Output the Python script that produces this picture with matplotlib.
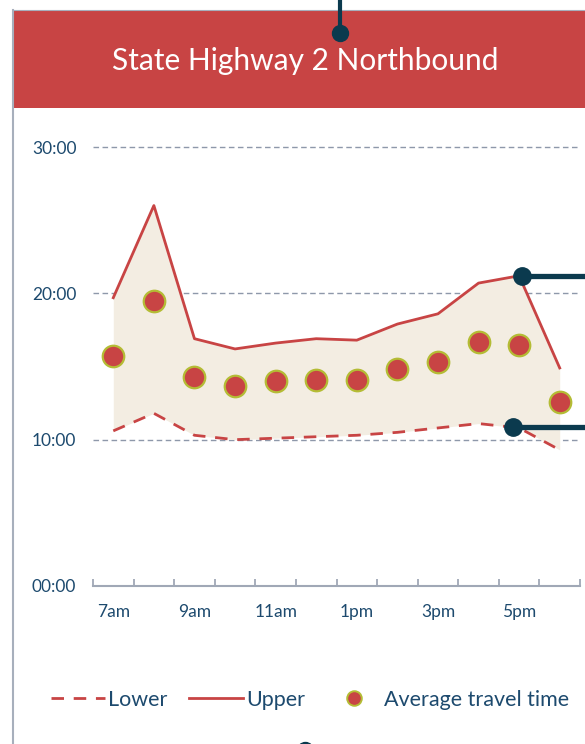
import matplotlib
matplotlib.use("Agg")
import matplotlib.pyplot as plt
from matplotlib.lines import Line2D
from matplotlib.patches import Rectangle
import numpy as np

plt.rcParams['font.family'] = ['Lato', 'DejaVu Sans']

# Travel time on SH2 northbound, minutes, by hour of departure
hours = ["7am", "8am", "9am", "10am", "11am", "12pm",
         "1pm", "2pm", "3pm", "4pm", "5pm", "6pm"]
upper = [19.7, 26.0, 16.9, 16.2, 16.6, 16.9, 16.8, 17.9, 18.6, 20.7, 21.2, 14.9]
lower = [10.6, 11.8, 10.3, 10.0, 10.1, 10.2, 10.3, 10.5, 10.8, 11.1, 10.8, 9.3]
average = [15.7, 19.5, 14.3, 13.7, 14.0, 14.1, 14.1, 14.8, 15.3, 16.7, 16.5, 12.6]
y_ticks = [0, 10, 20, 30]
y_labels = ["00:00", "10:00", "20:00", "30:00"]

RED = "#C84444"
NAVY = "#0B3A4E"
TXT = "#1D4A6E"
GRID = "#8E98AA"
FILL = "#F3EDE2"

W, H = 585, 744
fig = plt.figure(figsize=(W / 100, H / 100), dpi=100)


def fx(x):
    return x / W


def fy(y):
    return 1 - y / H


# Header band and panel border
fig.add_artist(Rectangle((fx(13), fy(108)), fx(585) - fx(13), fy(10) - fy(108),
                         transform=fig.transFigure, facecolor=RED,
                         edgecolor="none", zorder=1))
fig.add_artist(Line2D([fx(13), fx(13)], [fy(10), fy(760)],
                      transform=fig.transFigure, color="#A7AFBC", lw=1.5, zorder=2))
fig.add_artist(Line2D([fx(13), fx(585)], [fy(10), fy(10)],
                      transform=fig.transFigure, color="#A7AFBC", lw=0.8, zorder=2))
fig.text(fx(305), fy(61), "State Highway 2 Northbound", color="white",
         fontsize=21.5, ha="center", va="center", zorder=3)

# Chart area
x = np.arange(len(hours))
ax = fig.add_axes([fx(93), fy(586), fx(580) - fx(93), fy(147) - fy(586)])
ax.set_xlim(-0.5, len(hours) - 0.5)
ax.set_ylim(0, 30)
ax.patch.set_alpha(0)

ax.fill_between(x, lower, upper, color=FILL, lw=0, zorder=1)
for v in y_ticks[1:]:
    ax.axhline(v, color=GRID, lw=1, ls=(0, (4, 2.5)), zorder=0.5, clip_on=False)
ax.plot(x, upper, color=RED, lw=2, zorder=3, label="Upper")
ax.plot(x, lower, color=RED, lw=2, ls=(0, (4.5, 3.5)), zorder=3, label="Lower")
ax.plot(x, average, ls="none", marker="o", ms=15.5, mfc=RED, mec="#B4BC35",
        mew=1.6, zorder=4, label="Average travel time")

for s in ["left", "right", "top"]:
    ax.spines[s].set_visible(False)
ax.spines["bottom"].set_color("#A0A8B6")
ax.spines["bottom"].set_linewidth(1.5)

ax.set_yticks(y_ticks)
ax.set_yticklabels(y_labels)
ax.tick_params(axis="y", length=0, pad=12, labelsize=12.5, labelcolor=TXT)

ax.set_xticks(x[::2])
ax.set_xticklabels(hours[::2])
ax.set_xticks(np.arange(-0.5, len(hours)), minor=True)
ax.tick_params(axis="x", which="major", length=0, pad=13, labelsize=12.5,
               labelcolor=TXT)
ax.tick_params(axis="x", which="minor", direction="in", length=5, width=1.3,
               color="#A0A8B6")

# Legend
h_low = Line2D([], [], color=RED, lw=2, ls=(0, (4.5, 3.5)))
h_up = Line2D([], [], color=RED, lw=2)
h_avg = Line2D([], [], ls="none", marker="o", ms=10.5, mfc=RED, mec="#B4BC35", mew=1.4)
fig.legend([h_low, h_up, h_avg], ["Lower", "Upper", "Average travel time"],
           loc="center", bbox_to_anchor=(fx(310), fy(700)), ncol=3, frameon=False,
           fontsize=15.5, labelcolor=TXT, handlelength=2.5, handletextpad=0.15,
           columnspacing=1.0, borderpad=0)

# Navy connector markers
def connector(xs, ys, lw, ms):
    fig.add_artist(Line2D([fx(v) for v in xs], [fy(v) for v in ys],
                          transform=fig.transFigure, color=NAVY, lw=lw,
                          solid_capstyle="butt", zorder=6))
    fig.add_artist(Line2D([fx(xs[0])], [fy(ys[0])], transform=fig.transFigure,
                          ls="none", marker="o", ms=ms, mfc=NAVY, mec=NAVY,
                          zorder=6, clip_on=False))

connector([340, 340], [33, -5], 3, 11.5)
connector([522, 590], [276, 276], 3.8, 12.5)
connector([513, 590], [427, 427], 3.8, 12.5)
connector([305, 305], [750, 760], 3, 11.5)

fig.savefig("out.png", dpi=100)
